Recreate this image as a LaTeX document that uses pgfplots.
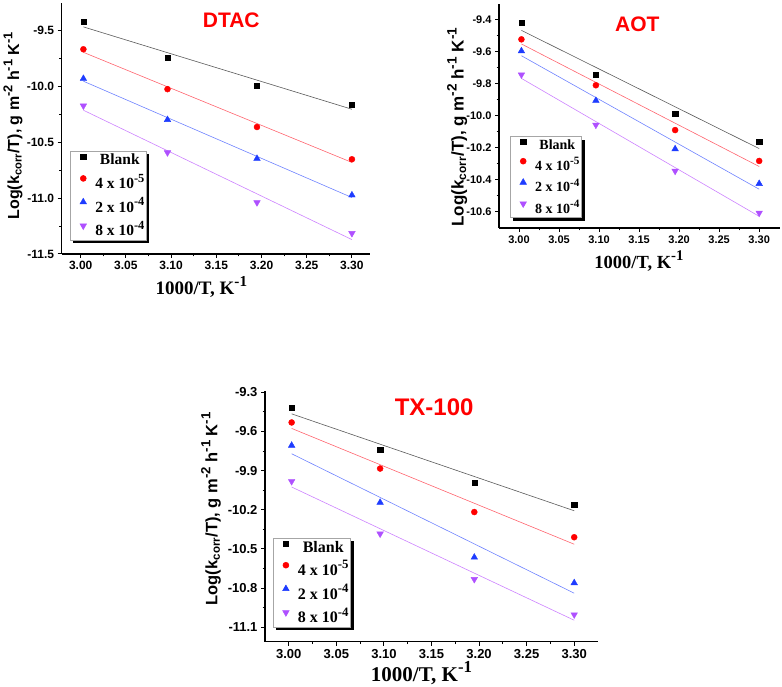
\documentclass[border=0pt]{standalone}
\usepackage{fontspec}
\setmainfont{Liberation Serif}
\newfontfamily\arial{Liberation Sans}
\usepackage{graphicx}
\usepackage{pgfplots}
\usepackage{pgfplotstable}
\pgfplotsset{compat=1.18}
\usetikzlibrary{shadows}

\newcommand{\sps}[1]{\raisebox{0.42em}{\scalebox{0.8}{#1}}}

\definecolor{mred}{RGB}{255,0,0}
\definecolor{mblue}{RGB}{30,60,255}
\definecolor{mviolet}{RGB}{175,80,255}
\definecolor{lblack}{RGB}{90,90,90}
\definecolor{lred}{RGB}{255,100,110}
\definecolor{lblue}{RGB}{110,130,255}
\definecolor{lviolet}{RGB}{205,130,255}

\pgfplotstableread{
x b a c d
3.003 -9.420 -9.667 -9.930 -10.173
3.096 -9.740 -10.024 -10.298 -10.592
3.195 -9.990 -10.363 -10.646 -11.039
3.300 -10.160 -10.652 -10.973 -11.315
}\dtac

\pgfplotstableread{
x b a c d
3.003 -9.417 -9.521 -9.594 -9.742
3.096 -9.740 -9.808 -9.904 -10.056
3.195 -9.987 -10.088 -10.206 -10.344
3.300 -10.160 -10.281 -10.423 -10.606
}\aot

\pgfplotstableread{
x b a c d
3.003 -9.417 -9.531 -9.707 -9.982
3.096 -9.740 -9.884 -10.144 -10.384
3.195 -9.992 -10.217 -10.564 -10.732
3.300 -10.162 -10.410 -10.760 -11.003
}\txc

\pgfplotsset{
  panel/.style={
    scale only axis,
    anchor=south west,
    axis lines=left,
    axis line style={-, line width=1.5pt},
    tick style={line width=1pt, black},
    tick align=outside,
    major tick length=4pt,
    minor tick length=2.5pt,
    minor tick num=1,
    xtick={3.00,3.05,3.10,3.15,3.20,3.25,3.30},
    /pgf/number format/assume math mode=true,
    x tick label style={/pgf/number format/.cd, fixed, fixed zerofill, precision=2},
    y tick label style={/pgf/number format/.cd, fixed, fixed zerofill, precision=1},
    xlabel={1000/T, K\sps{-1}},
    ylabel={Log(k\textsubscript{corr}/T), g m\sps{-2} h\sps{-1} K\sps{-1}},
    legend cell align=center,
    legend style={anchor=south west, draw=gray!70, line width=0.5pt, fill=white,
      drop shadow={shadow xshift=3pt, shadow yshift=-3pt, opacity=1, fill=black},
      inner xsep=1pt, inner ysep=2pt,
      nodes={inner sep=1pt},
      /tikz/every odd column/.append style={column sep=6pt}},
    clip=false,
  },
  limg/.style={legend image code/.code={%
      \pgfpathmoveto{\pgfpoint{0pt}{0pt}}\pgfpathlineto{\pgfpoint{17pt}{0pt}}\pgfusepath{}%
      \draw[##1] plot coordinates {(12pt,3.6pt)};}},
  sq/.style={only marks, mark=square*, mark size=2.6pt, black, limg},
  ci/.style={only marks, mark=*, mark size=3pt, mred, limg},
  tu/.style={only marks, mark=triangle*, mark size=3.8pt, mblue, limg},
  td/.style={only marks, mark=triangle*, mark size=3.8pt, mviolet, mark options={rotate=180}, limg},
  fit/.style={line width=0.6pt, forget plot},
}

\newcommand{\allplots}[1]{%
  \addplot[fit, lblack] table[x=x, y={create col/linear regression={y=b}}] {#1};
  \addplot[fit, lred] table[x=x, y={create col/linear regression={y=a}}] {#1};
  \addplot[fit, lblue] table[x=x, y={create col/linear regression={y=c}}] {#1};
  \addplot[fit, lviolet] table[x=x, y={create col/linear regression={y=d}}] {#1};
  \addplot[sq] table[x=x, y=b] {#1};
  \addplot[ci] table[x=x, y=a] {#1};
  \addplot[tu] table[x=x, y=c] {#1};
  \addplot[td] table[x=x, y=d] {#1};
  \legend{Blank, 4 x 10\sps{-5}, 2 x 10\sps{-4}, 8 x 10\sps{-4}}
}

\begin{document}
\begin{tikzpicture}[x=1pt,y=1pt]
\useasboundingbox (0,0) rectangle (782,687);

% DTAC
\begin{axis}[panel,
  at={(61.7pt,433pt)}, width=308.3pt, height=251.3pt,
  xmin=2.979, xmax=3.320, ymin=-11.5, ymax=-9.25,
  ytick={-11.5,-11.0,-10.5,-10.0,-9.5},
  tick label style={font=\arial\bfseries\fontsize{12}{12}\selectfont},
  every axis x label/.style={at={(axis description cs:0.453,-0.163)}, anchor=base, font=\bfseries\fontsize{19}{19}\selectfont},
  every axis y label/.style={at={(axis description cs:-0.158,0.51)}, rotate=90, anchor=center, font=\arial\bfseries\fontsize{16}{16}\selectfont},
  title={DTAC},
  every axis title/.style={at={(axis description cs:0.55,0.929)}, anchor=center, inner sep=0pt, text=red, font=\arial\bfseries\fontsize{21}{21}\selectfont},
  legend style={at={(0.027,0.053)}, font=\bfseries\fontsize{15.5}{15.5}\selectfont, row sep=5.5pt},
]
\allplots{\dtac}
\end{axis}

% AOT
\begin{axis}[panel,
  at={(499pt,459pt)}, width=281pt, height=224pt,
  xmin=2.975, xmax=3.326, ymin=-10.7, ymax=-9.3,
  ytick={-10.6,-10.4,-10.2,-10.0,-9.8,-9.6,-9.4},
  tick label style={font=\arial\bfseries\fontsize{11}{11}\selectfont},
  every axis x label/.style={at={(axis description cs:0.498,-0.179)}, anchor=base, font=\bfseries\fontsize{18.5}{18.5}\selectfont},
  every axis y label/.style={at={(axis description cs:-0.149,0.45)}, rotate=90, anchor=center, font=\arial\bfseries\fontsize{17}{17}\selectfont},
  title={AOT},
  every axis title/.style={at={(axis description cs:0.492,0.91)}, anchor=center, inner sep=0pt, text=red, font=\arial\bfseries\fontsize{21}{21}\selectfont},
  legend style={at={(0.039,0.045)}, font=\bfseries\fontsize{14}{14}\selectfont, row sep=4.5pt},
]
\allplots{\aot}
\end{axis}

% TX-100
\begin{axis}[panel,
  at={(265pt,45.3pt)}, width=333pt, height=250.7pt,
  xmin=2.975, xmax=3.325, ymin=-11.21, ymax=-9.29,
  ytick={-11.1,-10.8,-10.5,-10.2,-9.9,-9.6,-9.3},
  tick label style={font=\arial\bfseries\fontsize{13}{13}\selectfont},
  every axis x label/.style={at={(axis description cs:0.47,-0.16)}, anchor=base, font=\bfseries\fontsize{21}{21}\selectfont},
  every axis y label/.style={at={(axis description cs:-0.162,0.53)}, rotate=90, anchor=center, font=\arial\bfseries\fontsize{16.5}{16.5}\selectfont},
  title={TX-100},
  every axis title/.style={at={(axis description cs:0.508,0.935)}, anchor=center, inner sep=0pt, text=red, font=\arial\bfseries\fontsize{24}{24}\selectfont},
  legend style={at={(0.023,0.056)}, font=\bfseries\fontsize{16}{16}\selectfont, row sep=5pt},
]
\allplots{\txc}
\end{axis}
\end{tikzpicture}
\end{document}
